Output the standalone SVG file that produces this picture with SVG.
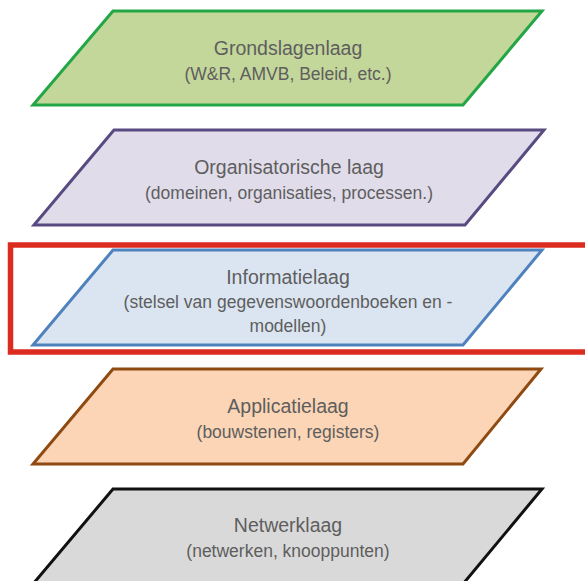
<svg xmlns="http://www.w3.org/2000/svg" width="585" height="581" viewBox="0 0 585 581">
<style>
.layer{stroke-width:3;stroke-linejoin:miter}
.t{font-family:"Liberation Sans",Arial,sans-serif;fill:#5e5e5e;text-anchor:middle}
.h{font-size:19.5px}
.s{font-size:17.5px}
</style>
<rect width="585" height="581" fill="#ffffff"/>
<g id="grondslagenlaag">
<polygon class="layer" points="113,11 542,11 463,105 33,105" fill="#c4d79b" stroke="#23a645"/>
<text class="t h" x="288" y="55">Grondslagenlaag</text>
<text class="t s" x="288" y="80">(W&amp;R, AMVB, Beleid, etc.)</text>
</g>
<g id="organisatorische-laag">
<polygon class="layer" points="114,130 544,130 465,225 34,225" fill="#e1dcea" stroke="#584b82"/>
<text class="t h" x="289" y="174">Organisatorische laag</text>
<text class="t s" x="289" y="199">(domeinen, organisaties, processen.)</text>
</g>
<g id="informatielaag">
<polygon class="layer" points="113,250 542,250 463,345 33,345" fill="#dbe5f1" stroke="#4f81bd"/>
<text class="t h" x="288" y="284">Informatielaag</text>
<text class="t s" x="288" y="308">(stelsel van gegevenswoordenboeken en -</text>
<text class="t s" x="288" y="332">modellen)</text>
</g>
<g id="applicatielaag">
<polygon class="layer" points="113,369 541,369 463,464 33,464" fill="#fbd5b5" stroke="#8f4a12"/>
<text class="t h" x="288" y="413">Applicatielaag</text>
<text class="t s" x="288" y="438">(bouwstenen, registers)</text>
</g>
<g id="netwerklaag">
<polygon class="layer" points="113,489 542,489 463,584 33,584" fill="#d9d9d9" stroke="#111111"/>
<text class="t h" x="288" y="532">Netwerklaag</text>
<text class="t s" x="288" y="557">(netwerken, knooppunten)</text>
</g>
<g id="connectors"></g>
<g id="highlight">
<rect x="10.5" y="245" width="590" height="107" fill="none" stroke="#dc2b1f" stroke-width="5.5"/>
</g>
</svg>
